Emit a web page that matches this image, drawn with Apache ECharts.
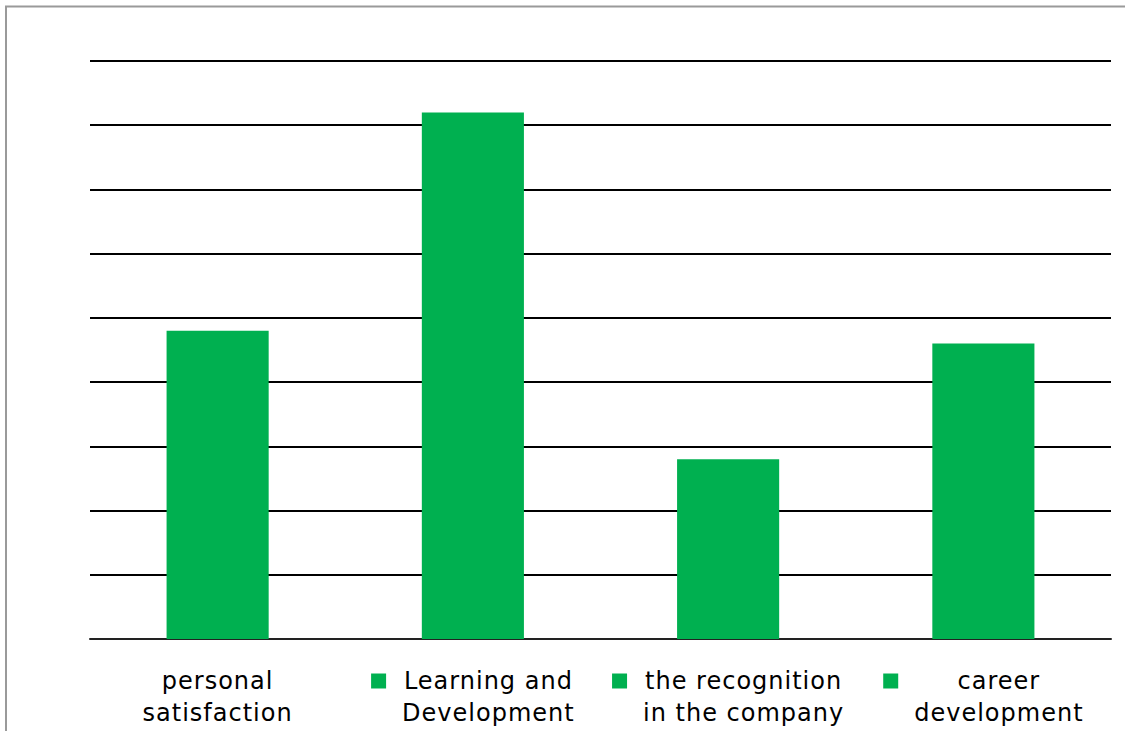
<!DOCTYPE html>
<html><head><meta charset="utf-8">
<script src="https://cdn.jsdelivr.net/npm/echarts@6/dist/echarts.min.js"></script>
<style>
html,body{margin:0;padding:0;background:#fff;overflow:hidden;}
#c{width:1125px;height:731px;}
#c text{letter-spacing:1px;}
</style>
</head><body><div id="c"></div>
<script>
// ---- data ----
const categories = ['personal\nsatisfaction', 'Learning and\nDevelopment', 'the recognition\nin the company', 'career\ndevelopment'];
const values = [24, 41, 14, 23];
const showMarker = [false, true, true, true];
const yMin = 0, yMax = 45, yInterval = 5;

// ---- style ----
const GREEN = '#00B050';
const FONT = 'DejaVu Sans';
const FS = 24, LH = 32, LS = 1;
const MARK = 15, GAP = 16;

const cv = document.createElement('canvas').getContext('2d');
cv.font = FS + 'px "' + FONT + '"';
function textW(s) { return cv.measureText(s).width + LS * s.length; }

const rich = {
  m: { width: MARK, height: MARK, backgroundColor: GREEN, verticalAlign: 'middle' },
  g: { width: GAP, height: LH },
  p: { width: MARK + GAP, height: LH }
};
const labelText = categories.map((c, i) => {
  const lines = c.split('\n');
  const w = Math.max(...lines.map(textW));
  rich['t' + i] = { width: w, align: 'center', fontSize: FS, fontFamily: FONT, color: '#000', lineHeight: LH };
  return lines.map((l, k) => {
    let pre = '';
    if (showMarker[i]) pre = k === 0 ? '{m|}{g|}' : '{p|}';
    return pre + '{t' + i + '|' + l + '}';
  }).join('\n');
});

const chart = echarts.init(document.getElementById('c'), null, { renderer: 'svg' });
chart.setOption({
  animation: false,
  backgroundColor: '#fff',
  graphic: [{
    type: 'rect', z: -1, silent: true,
    shape: { x: 6, y: 6.5, width: 1300, height: 900 },
    style: { fill: 'none', stroke: '#9a9a9a', lineWidth: 2 }
  }],
  grid: { left: 90, right: 14, top: 61, bottom: 92, containLabel: false },
  xAxis: {
    type: 'category',
    data: categories,
    axisLine: { show: true, lineStyle: { color: '#222', width: 2 } },
    axisTick: { show: false },
    axisLabel: {
      margin: 26,
      interval: 0,
      formatter: (v, idx) => labelText[idx],
      rich: rich,
      fontSize: FS, fontFamily: FONT, color: '#000', lineHeight: LH
    }
  },
  yAxis: {
    type: 'value',
    min: yMin, max: yMax, interval: yInterval,
    axisLabel: { show: false },
    axisLine: { show: false },
    axisTick: { show: false },
    splitLine: { show: true, lineStyle: { color: '#000', width: 2 } }
  },
  series: [{
    type: 'bar',
    data: values,
    barWidth: '40%',
    itemStyle: { color: GREEN },
    z: 3
  }]
});
</script>
</body></html>
